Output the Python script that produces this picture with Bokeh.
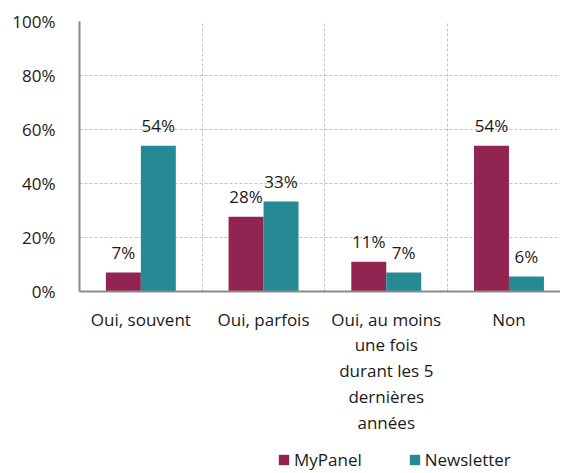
from bokeh.plotting import figure
from bokeh.layouts import column
from bokeh.models import Range1d, FixedTicker, ColumnDataSource, Legend, LegendItem
from bokeh.core.properties import value
from bokeh.embed import file_html
from bokeh.resources import INLINE

categories = ["Oui, souvent", "Oui, parfois", "Oui, au moins\nune fois\ndurant les 5\ndernières\nannées", "Non"]
series_names = ["MyPanel", "Newsletter"]
mypanel = [7, 27.7, 11, 54]
newsletter = [54, 33.3, 7, 5.6]
mypanel_labels = ["7%", "28%", "11%", "54%"]
newsletter_labels = ["54%", "33%", "7%", "6%"]
y_ticks = [0, 20, 40, 60, 80, 100]
y_tick_labels = ["0%", "20%", "40%", "60%", "80%", "100%"]
colors = ["#922452", "#268A94"]

FONT = "Open Sans"
FS = "17px"

p = figure(width=560, height=446, output_backend="svg", toolbar_location=None,
           x_range=Range1d(0, 3.92), y_range=Range1d(0, 100),
           min_border_top=21, min_border_left=79, min_border_right=0, min_border_bottom=155)
p.outline_line_color = None
p.background_fill_color = "white"
p.border_fill_color = "white"

bw = 0.285
idx = list(range(len(categories)))
src1 = ColumnDataSource(dict(x=[i + 0.5 - bw / 2 for i in idx], top=mypanel, lab=mypanel_labels))
src2 = ColumnDataSource(dict(x=[i + 0.5 + bw / 2 for i in idx], top=newsletter, lab=newsletter_labels))

r1 = p.vbar(x="x", top="top", bottom=0, width=bw, source=src1, fill_color=colors[0], line_color=None)
r2 = p.vbar(x="x", top="top", bottom=0, width=bw, source=src2, fill_color=colors[1], line_color=None)

for s in (src1, src2):
    p.text(x="x", y="top", text="lab", source=s, text_align="center", text_baseline="middle",
           y_offset=-20, text_font=value(FONT), text_font_size=FS, text_color="#1a1a1a")

# axes
p.xaxis.ticker = FixedTicker(ticks=[i + 0.5 for i in idx])
p.xaxis.major_label_overrides = {i + 0.5: c for i, c in zip(idx, categories)}
p.yaxis.ticker = FixedTicker(ticks=y_ticks)
p.yaxis.major_label_overrides = {t: l for t, l in zip(y_ticks, y_tick_labels)}
for ax in (p.xaxis, p.yaxis):
    ax.axis_line_color = "#8a8a8a"
    ax.axis_line_width = 2
    ax.major_tick_line_color = None
    ax.minor_tick_line_color = None
    ax.major_label_text_font = FONT
    ax.major_label_text_font_size = FS
    ax.major_label_text_color = "#1a1a1a"
p.yaxis.major_label_standoff = 18
p.xaxis.major_label_standoff = 10
p.xaxis.major_label_text_line_height = 1.13

p.xgrid.ticker = FixedTicker(ticks=[1, 2, 3])
for g in (p.xgrid, p.ygrid):
    g.grid_line_color = "#c4c4c4"
    g.grid_line_dash = "3 2"
    g.grid_line_width = 1

# legend strip: a second small figure holding only the legend
p2 = figure(width=560, height=25, output_backend="svg", toolbar_location=None,
            x_range=Range1d(100, 101), y_range=Range1d(100, 101),
            x_axis_location=None, y_axis_location=None,
            min_border_top=0, min_border_left=0, min_border_right=0, min_border_bottom=0)
p2.outline_line_color = None
p2.grid.visible = False
p2.background_fill_color = "white"
p2.border_fill_color = "white"
l1 = p2.vbar(x="x", top="top", bottom=0, width=bw, source=src1, fill_color=colors[0], line_color=None)
l2 = p2.vbar(x="x", top="top", bottom=0, width=bw, source=src2, fill_color=colors[1], line_color=None)

legend = Legend(items=[LegendItem(label=series_names[0], renderers=[l1]),
                       LegendItem(label=series_names[1], renderers=[l2])],
                orientation="horizontal", location=(198, 0),
                glyph_width=13, glyph_height=13, label_standoff=4, spacing=46,
                padding=0, margin=0, border_line_alpha=0, background_fill_alpha=0,
                label_text_font=FONT, label_text_font_size=FS, label_text_color="#1a1a1a",
                label_height=13)
p2.add_layout(legend, "center")

layout = column(p, p2, spacing=0)
open("out.html", "w").write(file_html(layout, INLINE))
